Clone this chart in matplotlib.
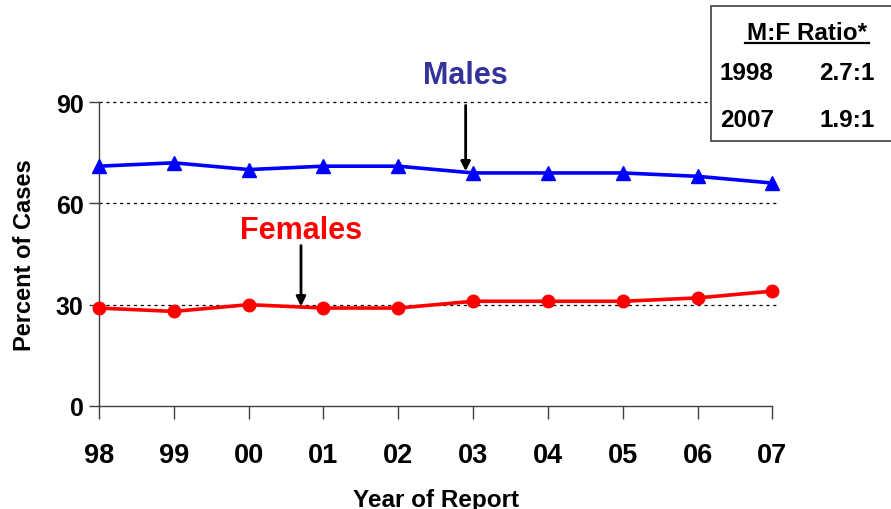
import numpy as np
import matplotlib.pyplot as plt
from matplotlib.patches import Rectangle
from matplotlib.lines import Line2D

plt.rcParams['font.family'] = ['Liberation Sans', 'DejaVu Sans']
plt.rcParams['font.weight'] = 'bold'

# data
years = ['98', '99', '00', '01', '02', '03', '04', '05', '06', '07']
males = [71, 72, 70, 71, 71, 69, 69, 69, 68, 66]
females = [29, 28, 30, 29, 29, 31, 31, 31, 32, 34]
yticks = [0, 30, 60, 90]
ratio_years = ['1998', '2007']
ratio_vals = ['2.7:1', '1.9:1']

fig = plt.figure(figsize=(8.91, 5.10), dpi=100)
ax = fig.add_axes([0.111, 0.202, 0.756, 0.596])

x = np.arange(len(years))
ax.plot(x, males, color='#0000FF', lw=2.6, marker='^', ms=10, zorder=3, clip_on=False)
ax.plot(x, females, color='#FF0000', lw=2.6, marker='o', ms=9, zorder=3, clip_on=False)

ax.set_xlim(0, len(years) - 1)
ax.set_ylim(0, 90)
ax.set_xticks(x)
ax.set_xticklabels(years, fontsize=19.5, fontweight='bold')
ax.set_yticks(yticks)
ax.set_yticklabels([str(v) for v in yticks], fontsize=18, fontweight='bold')
ax.tick_params(axis='x', direction='out', length=9, width=1, color='#404040', pad=17)
ax.tick_params(axis='y', direction='out', length=7, width=1, color='#404040', pad=4)

for v in yticks[1:]:
    ax.axhline(v, color='black', lw=0.9, ls=(0, (2.5, 3)), zorder=1, xmax=1.005, clip_on=False)

for s in ['top', 'right']:
    ax.spines[s].set_visible(False)
for s in ['left', 'bottom']:
    ax.spines[s].set_color('#404040')
    ax.spines[s].set_linewidth(1)

ax.set_xlabel('Year of Report', fontsize=17.5, fontweight='bold', labelpad=14)
ax.set_ylabel('Percent of Cases', fontsize=17, fontweight='bold', labelpad=14)

# annotations
ax.annotate('', xy=(5 - 0.1, males[5] + 0.5), xytext=(5 - 0.1, 89),
            arrowprops=dict(arrowstyle='-|>', color='black', lw=2, mutation_scale=14, shrinkA=0, shrinkB=0))
ax.text(5 - 0.1, 93.5, 'Males', color='#333399', fontsize=22, fontweight='bold',
        ha='center', va='bottom')
ax.annotate('', xy=(2.7, females[3] + 0.5), xytext=(2.7, 47.5),
            arrowprops=dict(arrowstyle='-|>', color='black', lw=2, mutation_scale=14, shrinkA=0, shrinkB=0))
ax.text(2.7, 47.8, 'Females', color='#FF0000', fontsize=22, fontweight='bold',
        ha='center', va='bottom')

# ratio box
fig.add_artist(Rectangle((0.798, 0.722), 0.21, 0.265, transform=fig.transFigure,
                         facecolor='white', edgecolor='#404040', lw=1.2, zorder=5))
fig.text(0.906, 0.935, 'M:F Ratio*', fontsize=17.5, fontweight='bold', ha='center',
         va='center', zorder=6)
fig.add_artist(Line2D([0.836, 0.975], [0.913, 0.913], transform=fig.transFigure,
                      color='black', lw=1.6, zorder=6))
for i, (yr, rv) in enumerate(zip(ratio_years, ratio_vals)):
    yy = 0.855 - i * 0.092
    fig.text(0.808, yy, yr, fontsize=17.5, fontweight='bold', ha='left', va='center', zorder=6)
    fig.text(0.982, yy, rv, fontsize=17.5, fontweight='bold', ha='right', va='center', zorder=6)

fig.savefig('out.png', dpi=100)
